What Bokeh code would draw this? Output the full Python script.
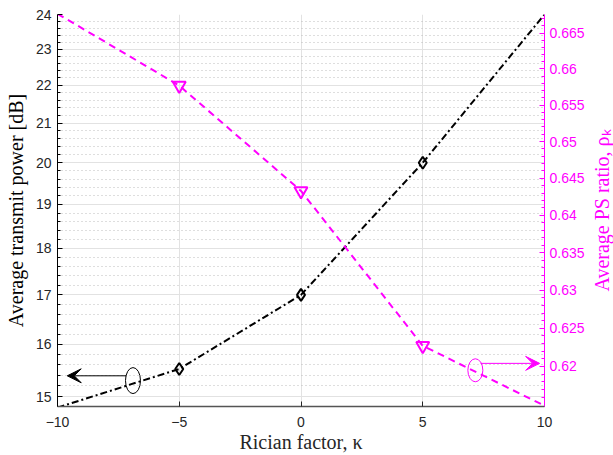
from bokeh.plotting import figure
from bokeh.layouts import row
from bokeh.models import (Range1d, LinearAxis, FixedTicker, CustomJSTickFormatter,
                          Arrow, VeeHead)
from bokeh.embed import file_html
from bokeh.resources import INLINE

# ---- data ----
kappa = [-10, -5, 0, 5, 10]
power_db = [14.8, 15.52, 17.0, 20.0, 24.0]
ps_ratio = [0.6677, 0.6577, 0.6433, 0.6227, 0.6149]

x_ticks = [-10, -5, 0, 5, 10]
left_ticks = [15, 16, 17, 18, 19, 20, 21, 22, 23, 24]
right_ticks = [0.62, 0.625, 0.63, 0.635, 0.64, 0.645, 0.65, 0.655, 0.66, 0.665]

MAG = "#ff00ff"
SANS = "Liberation Sans"
SERIF = "Liberation Serif"
LBL = "20px"

ps_range = Range1d(0.6148, 0.6676)

p = figure(width=587, height=455, output_backend="svg", toolbar_location=None,
           x_range=Range1d(-10, 10), y_range=Range1d(14.82, 24),
           y_axis_type="log",
           min_border_left=57, min_border_right=41, min_border_top=14, min_border_bottom=48)
p.outline_line_color = None
p.background_fill_color = "white"
p.border_fill_color = "white"

# left axis
lt = FixedTicker(ticks=left_ticks,
                 minor_ticks=[round(15 + 0.2 * i, 1) for i in range(46) if i % 5])
ya = p.left[0]
ya.ticker = lt
ya.formatter = CustomJSTickFormatter(code="return tick.toFixed(0);")
ya.axis_label = "Average transmit power [dB]"
ya.axis_label_text_font = SERIF
ya.axis_label_text_font_style = "normal"
ya.axis_label_text_font_size = LBL
ya.axis_label_text_color = "black"
ya.axis_label_standoff = 6
ya.major_label_text_font = SANS
ya.major_label_text_font_size = "14px"
ya.major_label_text_color = "#262626"
ya.major_label_standoff = 6
ya.axis_line_color = "black"
ya.major_tick_line_color = "black"
ya.minor_tick_line_color = "black"
ya.major_tick_in = 5
ya.major_tick_out = 0
ya.minor_tick_in = 3
ya.minor_tick_out = 0

# bottom axis
xa = p.below[0]
xa.ticker = FixedTicker(ticks=x_ticks)
xa.axis_label = "Rician factor, κ"
xa.axis_label_text_font = SERIF
xa.axis_label_text_font_style = "normal"
xa.axis_label_text_font_size = LBL
xa.axis_label_text_color = "#262626"
xa.axis_label_standoff = 1
xa.major_label_text_font = SANS
xa.major_label_text_font_size = "14px"
xa.major_label_text_color = "#262626"
xa.major_label_standoff = 10
xa.axis_line_color = "#555555"
xa.axis_line_width = 1.5
xa.major_tick_line_color = "#262626"
xa.major_tick_in = 5
xa.major_tick_out = 0
xa.minor_tick_line_color = None

# grids
p.xgrid.ticker = FixedTicker(ticks=x_ticks)
p.xgrid.grid_line_color = "#e2e2e2"
p.ygrid.ticker = lt
p.ygrid.grid_line_color = "#e2e2e2"
p.ygrid.minor_grid_line_color = "#bdbdbd"
p.ygrid.minor_grid_line_dash = "1 3"

# right axis
p.extra_y_ranges = {"ps": ps_range}
ra = LinearAxis(y_range_name="ps",
                ticker=FixedTicker(ticks=right_ticks,
                                   minor_ticks=[round(0.615 + 0.001 * i, 3) for i in range(53) if i % 5]),
                formatter=CustomJSTickFormatter(code="return tick.toFixed(3).replace(/0+$/, '');"))
ra.major_label_text_font = SANS
ra.major_label_text_font_size = "14px"
ra.major_label_text_color = MAG
ra.major_label_standoff = 5
ra.axis_line_color = MAG
ra.major_tick_line_color = MAG
ra.minor_tick_line_color = MAG
ra.major_tick_in = 5
ra.major_tick_out = 0
ra.minor_tick_in = 3
ra.minor_tick_out = 0
p.add_layout(ra, "right")

# black series (left axis)
p.line(kappa, power_db, line_color="black", line_width=2, line_dash="7 3 2 3")
p.scatter(kappa[1:4], power_db[1:4], marker="diamond", size=12, fill_color=None,
          line_color="black", line_width=2)

# magenta series (right axis)
p.line(kappa, ps_ratio, line_color=MAG, line_width=2, line_dash="7 5", y_range_name="ps")
p.scatter(kappa[1:4], ps_ratio[1:4], marker="inverted_triangle", size=13, fill_color=None,
          line_color=MAG, line_width=2, y_range_name="ps")

# annotations: ellipses + arrows pointing to the axes
p.ellipse(x=[-6.9], y=[15.30], width=15, height=26, width_units="screen",
          height_units="screen", fill_color=None, line_color="black", line_width=1)
p.add_layout(Arrow(end=VeeHead(size=14, fill_color="black", line_color="black"),
                   x_start=-7.17, y_start=15.39, x_end=-9.6, y_end=15.39,
                   line_color="black", line_width=1))

p.ellipse(x=[7.16], y=[0.6195], width=15, height=23, width_units="screen",
          height_units="screen", fill_color=None, line_color=MAG, line_width=1,
          y_range_name="ps")
p.add_layout(Arrow(end=VeeHead(size=14, fill_color=MAG, line_color=MAG),
                   x_start=7.38, y_start=0.6204, x_end=9.8, y_end=0.6204,
                   line_color=MAG, line_width=1, y_range_name="ps"))

# narrow strip on the right whose (tick-less) axis carries the right-axis title,
# reading bottom-to-top as in the reference
p2 = figure(width=26, height=455, output_backend="svg", toolbar_location=None,
            x_range=Range1d(0, 1), y_range=ps_range,
            min_border_left=24, min_border_right=0, min_border_top=14, min_border_bottom=48)
p2.xaxis.visible = False
p2.grid.visible = False
p2.outline_line_color = None
p2.background_fill_color = "white"
p2.border_fill_color = "white"
ta = p2.left[0]
ta.ticker = FixedTicker(ticks=[])
ta.axis_line_color = None
ta.major_tick_line_color = None
ta.minor_tick_line_color = None
ta.major_tick_out = 0
ta.major_tick_in = 0
ta.minor_tick_out = 0
ta.minor_tick_in = 0
ta.axis_label = "Average PS ratio, ρₖ"
ta.axis_label_text_font = SERIF
ta.axis_label_text_font_style = "normal"
ta.axis_label_text_font_size = LBL
ta.axis_label_text_color = MAG
ta.axis_label_standoff = 0

open("out.html", "w").write(file_html(row(p, p2), INLINE))
